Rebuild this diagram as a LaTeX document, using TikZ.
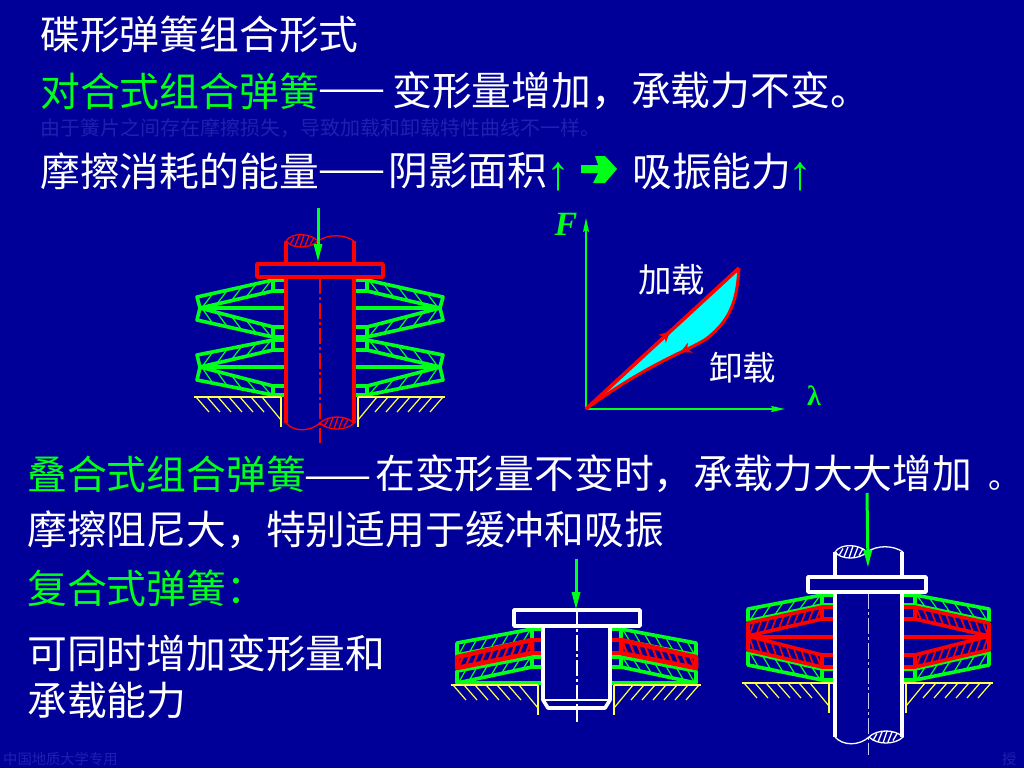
\documentclass[tikz,border=0pt]{standalone}
\usepackage{fontspec}
\usepackage{tikz}
\usetikzlibrary{arrows.meta}
\usetikzlibrary{decorations.markings}
\setmainfont{Liberation Serif}
\newfontfamily\cjk{Noto Sans CJK SC}
\definecolor{bgblue}{HTML}{000099}
\definecolor{faint}{HTML}{2020B0}
\definecolor{lime}{HTML}{00FF19}
\definecolor{springred}{HTML}{FF0000}
\definecolor{seatyellow}{HTML}{FFFF4D}
\definecolor{fillcyan}{HTML}{00FFFF}
\tikzset{
	txt/.style={font=\cjk\fontsize{39.8}{48}\selectfont, text=white, inner sep=0pt, anchor=west},
	head/.style={txt, text=lime},
	rule/.style={font=\cjk\fontsize{40}{48}\selectfont, text=white, inner sep=0pt, anchor=west},
	note/.style={font=\cjk\fontsize{20}{24}\selectfont, text=faint, inner sep=0pt, anchor=west},
	foot/.style={font=\cjk\fontsize{14.3}{16}\selectfont, text=faint, inner sep=0pt, anchor=west},
	up/.style={font=\fontsize{48}{56}\selectfont, text=lime, inner sep=0pt},
	rim/.style={line width=3.6pt, line join=round},
	hatch/.style={line width=1.2pt},
	load/.style={lime, line width=3pt, -{Stealth[length=18pt,width=8pt,inset=0pt]}},
	axis/.style={lime, line width=1.2pt, -{Stealth[length=14pt,width=6pt,inset=2pt]}},
	center/.style={line width=1.2pt, dash pattern=on 16pt off 3pt on 3pt off 3pt}
}
% one plate on both sides of the shaft
\newcommand{\plate}[6]{%
	\foreach \dir/\edge in {-1/\edgeL,1/\edgeR} {
		\begin{scope}[#1, shift={(\edge,0)}, xscale=\dir]
			\draw [rim] (0,#3) rectangle (\hub,#5);
			\draw [rim] (\hub,#3) -- (\reachA,#4) -- (\reachB,#6) -- (\hub,#5) -- cycle;
			\foreach \k in {1,...,#2} {
				\pgfmathsetmacro{\u}{\hub+(\reachA-\hub)*(\k-0.15)/#2}
				\pgfmathsetmacro{\v}{\u-0.7*(\reachA-\hub)/#2}
				\draw [hatch] (\u,{#3+(#4-#3)*(\u-\hub)/(\reachA-\hub)}) -- (\v,{#5+(#6-#5)*(\v-\hub)/(\reachA-\hub)});
			}
		\end{scope}
	}
}
\newcommand{\seam}[2]{%
	\foreach \dir/\edge in {-1/\edgeL,1/\edgeR} {
		\draw [#1, rim, shift={(\edge,0)}, xscale=\dir] (0,#2) -- (\reachA,#2);
	}
}
% yellow seat under the stack
\newcommand{\seat}[5]{%
	\foreach \dir/\edge in {-1/#1,1/#2} {
		\begin{scope}[seatyellow, shift={(\edge,#3)}, xscale=\dir]
			\draw [line width=2.6pt] (0,#4) -- (0,0) (-#5,0) -- (87,0);
			\draw [hatch] (19,0) -- (0,23);
			\foreach \u in {30,41,...,85} {
				\draw [hatch] (\u,0) -- (\u-13,15);
			}
		\end{scope}
	}
}
% broken ends of a long shaft
\newcommand{\shaftbreak}[4]{%
	\begin{scope}[#1, line width=1.3pt, shift={(#2,#3)}]
		\draw (0,0) .. controls (6,-9) and (24,-8) .. (32,0) .. controls (24,8) and (6,8) .. (0,0);
		\draw (32,0) .. controls (42,-7) and (58,-7) .. (68,0);
		\foreach \h/\r in {6/3.5,11/5,16/6,21/5,26/3.5} {
			\draw ({\h-2},\r) -- ({\h+2},-\r);
		}
	\end{scope}
	\begin{scope}[#1, line width=1.3pt, shift={(#2,#4)}]
		\draw (0,0) .. controls (8,9) and (24,9) .. (34,0);
		\draw (34,0) .. controls (42,-8) and (60,-8) .. (68,0) .. controls (60,8) and (42,8) .. (34,0);
		\foreach \h/\r in {40/3.5,45/5,50/6,55/5,60/3.5} {
			\draw ({\h-2},\r) -- ({\h+2},-\r);
		}
	\end{scope}
}

\begin{document}
\begin{tikzpicture}[x=1pt,y=-1pt]
	\useasboundingbox (0,0) rectangle (1024,768);
	\fill [bgblue] (0,0) rectangle (1024,768);

	\node [txt] (title) at (40,34) {碟形弹簧组合形式};
	\node [head] (stacked) at (40,91) {对合式组合弹簧};
	\node [rule] (dashA) at (318,96) {——};
	\node [txt] (stackedtext) at (392,91) {变形量增加，承载力不变。};
	\node [note] (faintnote) at (40,128) {由于簧片之间存在摩擦损失，导致加载和卸载特性曲线不一样。};
	\node [txt] (friction) at (40,171) {摩擦消耗的能量};
	\node [rule] (dashB) at (318,177) {——};
	\node [txt] (shade) at (388,171) {阴影面积};
	\node [up] (upA) at (558,177) {↑};
	\fill [lime] (581,165) -- (598,165) -- (595,156) -- (605,156) -- (617,169) -- (605,183) -- (593,183) -- (598,173) -- (581,173) -- cycle;
	\node [txt] (absorb) at (632,171) {吸振能力};
	\node [up] (upB) at (800,177) {↑};

	\node [head] (parallel) at (27,474) {叠合式组合弹簧};
	\node [rule] (dashC) at (304,483) {——};
	\node [txt] (paralleltext) at (375,474) {在变形量不变时，承载力大大增加 \kern7pt{\fontsize{32}{40}\selectfont 。}};
	\node [txt] (damping) at (27,530) {摩擦阻尼大，特别适用于缓冲和吸振};
	\node [head] (combined) at (27,588) {复合式弹簧：};
	\node [txt] (combinedA) at (27,653) {可同时增加变形量和};
	\node [txt] (combinedB) at (27,700) {承载能力};
	\node [foot] (school) at (3,759) {中国地质大学专用};
	\node [foot] (sign) at (1002,759) {授};

	% spring on the upper left
	\def\edgeL{286}\def\edgeR{354}\def\hub{13}\def\reachA{86}\def\reachB{89}
	\draw [springred, center] (320,278) -- (320,443);
	\plate{lime}{5}{291}{308}{280}{297}
	\plate{lime}{5}{327}{308}{337}{320}
	\plate{lime}{5}{350}{367}{340}{355}
	\plate{lime}{5}{386}{367}{395}{380}
	\seam{lime}{308}
	\seam{lime}{367}
	\seat{281}{358}{397}{30}{0}
	\draw [springred, rim] (286,241) -- (286,423) (354,241) -- (354,423);
	\shaftbreak{springred}{286}{241}{423}
	\draw [springred, rim, fill=bgblue] (257,264) rectangle (383,277);
	\coordinate (loadAtop) at (318,208);
	\coordinate (loadAend) at (318,262);
	\draw [load] (loadAtop) -- (loadAend);

	% characteristic curve
	\coordinate (origin) at (586,409);
	\coordinate (ftip) at (586,218);
	\coordinate (ltip) at (785,409);
	\coordinate (peak) at (739,268);
	\fill [fillcyan] (origin) -- (peak) .. controls (737,295) and (734,318) .. (706,339) .. controls (690,350) and (650,362) .. (origin);
	\draw [axis] (origin) -- (ftip);
	\draw [axis] (origin) -- (ltip);
	\draw [springred, line width=3.6pt, decoration={markings, mark=at position 0.55 with {\arrow[line width=1pt]{Stealth[length=11pt,width=11pt]}}}, postaction={decorate}] (origin) -- (peak);
	\draw [springred, line width=3pt, decoration={markings, mark=at position 0.5 with {\arrow[line width=1pt]{Stealth[length=11pt,width=11pt]}}}, postaction={decorate}] (peak) .. controls (737,295) and (734,318) .. (706,339) .. controls (690,350) and (650,362) .. (origin);
	\node [font=\bfseries\itshape\fontsize{34}{40}\selectfont, text=lime, inner sep=0pt] (flabel) at (566,224) {F};
	\node [font=\bfseries\fontsize{28}{32}\selectfont, text=lime, inner sep=0pt] (llabel) at (814,396) {λ};
	\node [txt, font=\cjk\fontsize{33.5}{40}\selectfont] (loading) at (638,280) {加载};
	\node [txt, font=\cjk\fontsize{33.5}{40}\selectfont] (unloading) at (709,368) {卸载};

	% spring in the middle
	\def\edgeL{543}\def\edgeR{610}\def\hub{11}\def\reachA{86}\def\reachB{86}
	\plate{lime}{7}{640}{655}{629}{643}
	\plate{lime}{7}{667}{683}{657}{671}
	\seam{lime}{683}
	\begin{scope}[rim/.style={line width=4.5pt, line join=round}, hatch/.style={line width=2.2pt}]
		\plate{springred}{10}{653}{668}{640}{657}
	\end{scope}
	\seat{538}{614}{685}{30}{0}
	\draw [white, rim, fill=bgblue] (514,610) rectangle (640,626);
	\draw [white, rim] (543,627) -- (543,700) -- (548,708) -- (605,708) -- (610,700) -- (610,627);
	\draw [white, line width=1.5pt] (543,700) -- (610,700);
	\draw [white, center, line width=2pt] (576.5,610) -- (576.5,722);
	\coordinate (loadBtop) at (576,559);
	\coordinate (loadBend) at (576,610);
	\draw [load] (loadBtop) -- (loadBend);

	% spring on the right
	\def\edgeL{835}\def\edgeR{902}\def\hub{13}\def\reachA{87}\def\reachB{87}
	\plate{lime}{6}{605}{621}{595}{609}
	\plate{lime}{6}{669}{652}{680}{665}
	\begin{scope}[hatch/.style={line width=1.6pt}]
		\plate{springred}{10}{619}{636}{607}{623}
		\plate{springred}{10}{655}{636}{667}{650}
	\end{scope}
	\seam{springred}{637}
	\seat{829}{906}{683}{30}{5}
	\draw [white!80!blue, center, line width=1.6pt] (868.5,593) -- (868.5,755);
	\draw [white, rim] (835,552) -- (835,737) (902,552) -- (902,737);
	\shaftbreak{white}{835}{552}{737}
	\draw [white, rim, fill=bgblue] (808,577) rectangle (926,592);
	\coordinate (loadCtop) at (867,493);
	\coordinate (loadCend) at (868,568);
	\draw [load] (loadCtop) -- (loadCend);
\end{tikzpicture}
\end{document}
